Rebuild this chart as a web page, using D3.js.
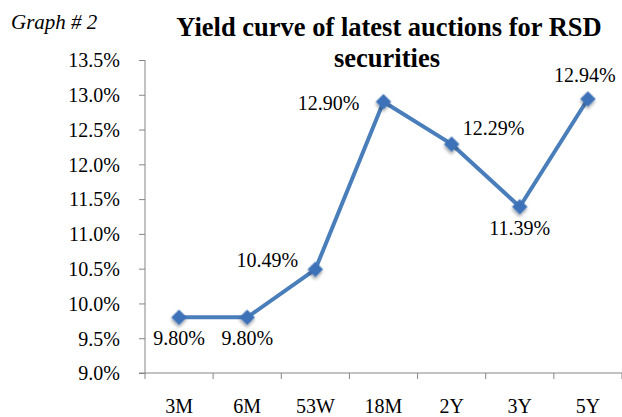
<!DOCTYPE html>
<html>
<head>
<meta charset="utf-8">
<script src="https://cdn.jsdelivr.net/npm/d3@7"></script>
<style>
  body { margin: 0; background: #fff; }
</style>
</head>
<body>
<div class="chart"></div>
<script>
// data
var categories = ['3M', '6M', '53W', '18M', '2Y', '3Y', '5Y'];
var yields = [9.80, 9.80, 10.49, 12.90, 12.29, 11.39, 12.94];
var yTicks = [9.0, 9.5, 10.0, 10.5, 11.0, 11.5, 12.0, 12.5, 13.0, 13.5];
// where each data label sits relative to its point
var labelSide = ['below', 'below', 'upleft', 'left', 'upright', 'below', 'above'];

var FONT = 'Liberation Serif';
var W = 622, H = 417;
var margin = { top: 60, right: 0, bottom: 44, left: 145 };
var width = W - margin.left - margin.right,
    height = H - margin.top - margin.bottom;

var svg = d3.select('.chart').append('svg')
  .attr('width', W)
  .attr('height', H);

// soft shadow under the markers
var defs = svg.append('defs');
var f = defs.append('filter').attr('id', 'shadow')
  .attr('x', '-50%').attr('y', '-50%').attr('width', '200%').attr('height', '200%');
f.append('feDropShadow').attr('dx', 1.5).attr('dy', 2).attr('stdDeviation', 1.5)
  .attr('flood-color', '#000').attr('flood-opacity', 0.35);

var g = svg.append('g')
  .attr('transform', 'translate(' + margin.left + ',' + margin.top + ')');

var x = d3.scaleBand().domain(categories).range([0, width]);
var y = d3.scaleLinear().domain([9.0, 13.5]).range([height, 0]);

// y axis
var yAxis = g.append('g')
  .call(d3.axisLeft(y).tickValues(yTicks).tickSize(6).tickPadding(19)
    .tickFormat(function(d) { return d.toFixed(1) + '%'; }));
yAxis.attr('font-family', FONT);
yAxis.select('.domain').attr('stroke', '#868686').attr('d', 'M0,' + height + 'V0');
yAxis.selectAll('.tick line').attr('stroke', '#868686');
yAxis.selectAll('.tick text')
  .style('font-family', FONT).style('font-size', '20px').attr('dy', '0.34em');

// x axis, ticks sit on the category boundaries
var xAxis = g.append('g')
  .attr('transform', 'translate(0,' + height + ')')
  .call(d3.axisBottom(x).tickSize(0).tickPadding(26));
xAxis.attr('font-family', FONT);
xAxis.select('.domain').attr('stroke', '#868686').attr('d', 'M-6,0H' + width);
xAxis.selectAll('.tick text').style('font-family', FONT).style('font-size', '20px');
xAxis.selectAll('.bound')
  .data(d3.range(categories.length + 1))
  .enter().append('line')
    .attr('class', 'bound')
    .attr('x1', function(i) { return i * x.step(); })
    .attr('x2', function(i) { return i * x.step(); })
    .attr('y1', 0).attr('y2', 6)
    .attr('stroke', '#868686');

var data = yields.map(function(v, i) { return { cat: categories[i], v: v, side: labelSide[i] }; });
var px = function(d) { return x(d.cat) + x.bandwidth() / 2; };

var line = d3.line()
  .x(px)
  .y(function(d) { return y(d.v); });

g.append('path')
  .datum(data)
  .attr('d', line)
  .attr('fill', 'none')
  .attr('stroke', '#4A7EBB')
  .attr('stroke-width', 4)
  .attr('stroke-linejoin', 'round');

// diamond markers
g.selectAll('.marker')
  .data(data)
  .enter().append('path')
    .attr('class', 'marker')
    .attr('d', d3.symbol().type(d3.symbolSquare).size(120))
    .attr('transform', function(d) {
      return 'translate(' + px(d) + ',' + y(d.v) + ') rotate(45)';
    })
    .attr('fill', '#3D72B8')
    .attr('filter', 'url(#shadow)');

// data labels
var offsets = {
  below: [0, 21], above: [-3, -24], left: [-55, 1], upleft: [-48, -9], upright: [42, -16]
};
g.selectAll('.lbl')
  .data(data)
  .enter().append('text')
    .attr('class', 'lbl')
    .attr('x', function(d) { return px(d) + offsets[d.side][0]; })
    .attr('y', function(d) { return y(d.v) + offsets[d.side][1]; })
    .attr('text-anchor', 'middle')
    .attr('dy', '0.34em')
    .style('font-family', FONT)
    .style('font-size', '20px')
    .text(function(d) { return d.v.toFixed(2) + '%'; });

// titles
svg.append('text')
  .attr('x', 11).attr('y', 29)
  .style('font-family', FONT)
  .style('font-size', '21px')
  .style('font-style', 'italic')
  .text('Graph # 2');

svg.append('text')
  .attr('x', 389).attr('y', 36)
  .attr('text-anchor', 'middle')
  .style('font-family', FONT)
  .style('font-size', '26.5px')
  .style('font-weight', 'bold')
  .text('Yield curve of latest auctions for RSD');

svg.append('text')
  .attr('x', 387).attr('y', 67)
  .attr('text-anchor', 'middle')
  .style('font-family', FONT)
  .style('font-size', '26.5px')
  .style('font-weight', 'bold')
  .text('securities');
</script>
</body>
</html>
